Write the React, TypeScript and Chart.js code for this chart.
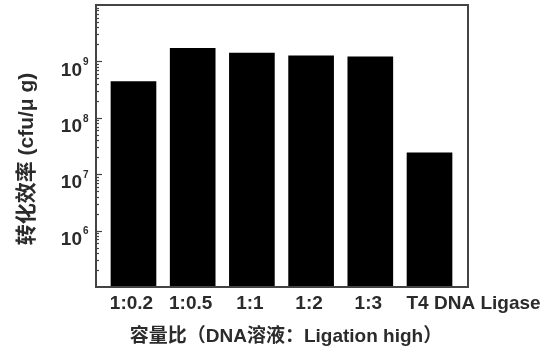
import React, { useEffect, useRef } from "react";
import { Chart, registerables } from "chart.js";

Chart.register(...registerables);

const categories = ["1:0.2", "1:0.5", "1:1", "1:2", "1:3", "T4 DNA Ligase"];
const efficiency = [4.4e8, 1.7e9, 1.4e9, 1.25e9, 1.2e9, 2.4e7];
const yLabelExponents = [6, 7, 8, 9];
const yMin = 1e5;
const yMax = 1e10;
const xTitle = "容量比（DNA溶液：Ligation high）";
const yTitle = "转化效率 (cfu/μ g)";

const FONT = '"Liberation Sans", "Noto Sans CJK SC", Arial, sans-serif';
const TEXT = "#2b2b2b";

const decorPlugin = {
  id: "decor",
  afterDraw(chart: any) {
    const { ctx, chartArea } = chart;
    const xs = chart.scales.x;
    const ys = chart.scales.y;
    const { left, right, top, bottom } = chartArea;
    ctx.save();
    // frame
    ctx.strokeStyle = "#444";
    ctx.lineWidth = 2;
    ctx.strokeRect(left, top, right - left, bottom - top);

    // inward y ticks (major + minor)
    ctx.lineWidth = 1.2;
    for (let e = 5; e <= 9; e++) {
      for (let s = 1; s <= 9; s++) {
        const v = s * Math.pow(10, e);
        if (v <= yMin || v >= yMax) continue;
        const y = Math.round(ys.getPixelForValue(v)) + 0.5;
        const len = s === 1 ? 6 : 3;
        ctx.beginPath();
        ctx.moveTo(left, y);
        ctx.lineTo(left + len, y);
        ctx.stroke();
      }
    }

    // y labels 10^n
    ctx.fillStyle = TEXT;
    yLabelExponents.forEach((e) => {
      const y = ys.getPixelForValue(Math.pow(10, e));
      ctx.font = `bold 19px ${FONT}`;
      ctx.textAlign = "right";
      ctx.textBaseline = "middle";
      ctx.fillText("10", left - 14, y + 9);
      ctx.font = `bold 10px ${FONT}`;
      ctx.textAlign = "left";
      ctx.fillText(String(e), left - 13, y + 1);
    });

    // x labels
    ctx.font = `bold 19px ${FONT}`;
    ctx.textBaseline = "middle";
    categories.forEach((c, i) => {
      const x = xs.getPixelForValue(i);
      if (i === categories.length - 1) {
        ctx.textAlign = "left";
        ctx.fillText(c, x - 23, bottom + 17);
      } else {
        ctx.textAlign = "center";
        ctx.fillText(c, x - 2, bottom + 17);
      }
    });

    // x title
    ctx.font = `bold 19px ${FONT}`;
    ctx.textAlign = "center";
    ctx.fillText(xTitle, 286, 337);

    // y title
    ctx.translate(27, 159);
    ctx.rotate(-Math.PI / 2);
    ctx.font = `bold 21px ${FONT}`;
    ctx.textAlign = "center";
    ctx.textBaseline = "middle";
    ctx.fillText(yTitle, 0, 0);
    ctx.restore();
  },
};

export default function App() {
  const ref = useRef<HTMLCanvasElement>(null);
  useEffect(() => {
    document.body.style.margin = "0";
    const canvas = ref.current!;
    const chart = new Chart(canvas, {
      type: "bar",
      data: {
        datasets: [
          {
            data: categories.map((c, i) => ({ x: i, y: efficiency[i] })),
            backgroundColor: "#000",
            borderWidth: 0,
            barThickness: 45,
          },
        ],
      },
      options: {
        animation: false,
        responsive: false,
        layout: { padding: { left: 96, right: 73, top: 5, bottom: 69 } },
        plugins: { legend: { display: false }, tooltip: { enabled: false } },
        scales: {
          x: { type: "linear", min: -0.633, max: 5.65, offset: false, display: false },
          y: { type: "logarithmic", min: yMin, max: yMax, display: false },
        },
      },
      plugins: [decorPlugin],
    });
    return () => chart.destroy();
  }, []);
  return (
    <div style={{ width: 541, height: 356, background: "#fff" }}>
      <canvas ref={ref} width={541} height={356} />
    </div>
  );
}
